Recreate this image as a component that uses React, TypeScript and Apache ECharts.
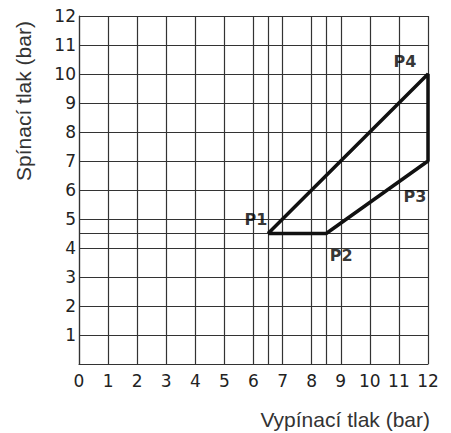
import React, { useEffect, useRef } from "react";
import * as echarts from "echarts";

const xTicks = [0, 1, 2, 3, 4, 5, 6, 7, 8, 9, 10, 11, 12];
const yTicks = [0, 1, 2, 3, 4, 5, 6, 7, 8, 9, 10, 11, 12];
const pointNames = ["P1", "P2", "P3", "P4"];
const pointX = [6.5, 8.5, 12, 12];
const pointY = [4.5, 4.5, 7, 10];
const guideX = [6.5, 8.5];
const guideY = [4.5];
const xName = "Vypínací tlak (bar)";
const yName = "Spínací tlak (bar)";

const labelOffsets: Record<string, [number, number]> = {
  P1: [-12, -14],
  P2: [15, 22],
  P3: [-13, 35],
  P4: [-23, -13],
};

export default function App() {
  const ref = useRef<HTMLDivElement>(null);
  useEffect(() => {
    if (!ref.current) return;
    const chart = echarts.init(ref.current, null, { renderer: "svg" });
    const poly = pointX.map((x, i) => [x, pointY[i]]);
    poly.push(poly[0]);
    const gridColor = "#333";
    chart.setOption({
      animation: false,
      grid: { left: 79, right: 23, top: 16, bottom: 69 },
      xAxis: {
        type: "value",
        min: xTicks[0],
        max: xTicks[xTicks.length - 1],
        interval: 1,
        axisLine: { show: true, lineStyle: { color: gridColor, width: 1.2 } },
        axisTick: { show: false },
        splitLine: { show: true, lineStyle: { color: gridColor, width: 1.2 } },
        axisLabel: {
          margin: 8,
          color: "#222",
          fontFamily: "DejaVu Sans",
          fontSize: 17,
        },
      },
      yAxis: {
        type: "value",
        min: yTicks[0],
        max: yTicks[yTicks.length - 1],
        interval: 1,
        axisLine: { show: true, lineStyle: { color: gridColor, width: 1.2 } },
        axisTick: { show: false },
        splitLine: { show: true, lineStyle: { color: gridColor, width: 1.2 } },
        axisLabel: {
          margin: 3,
          color: "#222",
          fontFamily: "DejaVu Sans",
          fontSize: 17,
          formatter: (v: number) => (v === 0 ? "" : String(v)),
        },
      },
      graphic: [
        {
          type: "text",
          right: 21,
          top: 409,
          style: {
            text: xName,
            fill: "#333",
            font: "21px 'Liberation Sans', Arial, sans-serif",
          },
        },
        {
          type: "text",
          x: 23,
          y: 101,
          rotation: Math.PI / 2,
          style: {
            text: yName,
            fill: "#333",
            font: "21px 'Liberation Sans', Arial, sans-serif",
            align: "center",
            verticalAlign: "middle",
          },
        },
      ],
      series: [
        {
          type: "line",
          data: poly,
          symbol: "none",
          lineStyle: { color: "#111", width: 3.5 },
          z: 5,
          markLine: {
            silent: true,
            symbol: "none",
            label: { show: false },
            lineStyle: { color: gridColor, width: 1.2, type: "solid" },
            data: [
              ...guideX.map((x) => ({ xAxis: x })),
              ...guideY.map((y) => ({ yAxis: y })),
            ],
          },
        },
        {
          type: "scatter",
          symbolSize: 0,
          z: 6,
          itemStyle: { color: "#000" },
          data: pointNames.map((n, i) => ({
            name: n,
            value: [pointX[i], pointY[i]],
            label: {
              show: true,
              formatter: "{b}",
              position: "inside",
              offset: labelOffsets[n],
              color: "#000",
              textBorderWidth: 0,
              textBorderColor: "transparent",
              fontFamily: "DejaVu Sans",
              fontWeight: "bold",
              fontSize: 16,
            },
          })),
        },
      ],
    });
    return () => chart.dispose();
  }, []);
  return (
    <div
      ref={ref}
      style={{ position: "fixed", left: 0, top: 0, width: 451, height: 433, background: "#fff" }}
    />
  );
}
